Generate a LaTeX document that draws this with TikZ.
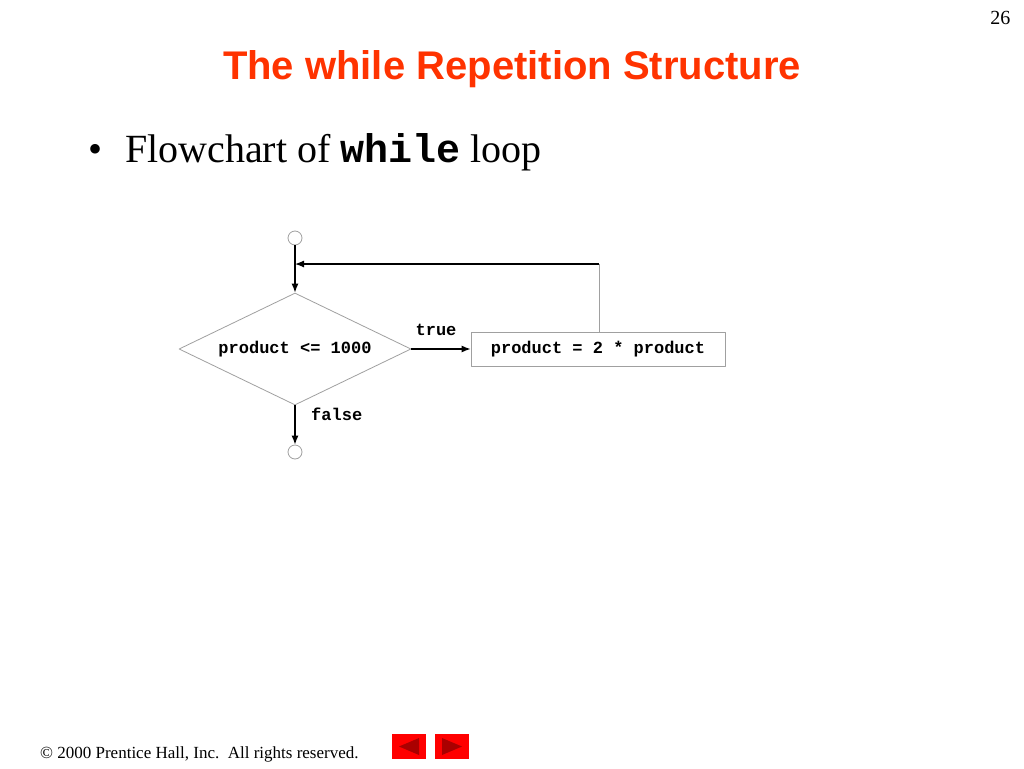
\documentclass[tikz,border=0pt]{standalone}
\usepackage{fontspec}
\setmainfont{Liberation Serif}
\setsansfont{Liberation Sans}
\setmonofont{Liberation Mono}
\usetikzlibrary{shapes.geometric,arrows.meta}
\definecolor{titlered}{RGB}{255,51,0}
\definecolor{boxgray}{RGB}{160,160,160}
\definecolor{btnred}{RGB}{255,0,0}
\definecolor{btndark}{RGB}{170,0,0}
\tikzset{
  code/.style={font=\fontsize{17}{20}\selectfont\ttfamily\bfseries},
  decision/.style={diamond, draw=boxgray, line width=0.8pt, aspect=2.07, inner sep=0pt, minimum width=232pt, minimum height=112pt, code},
  action/.style={rectangle, draw=boxgray, line width=0.8pt, minimum width=254pt, minimum height=34pt, inner sep=0pt, code},
  endpoint/.style={circle, draw=boxgray, line width=0.8pt, minimum size=14pt, inner sep=0pt},
  flow/.style={-{Latex[length=9pt,width=7pt]}, line width=1.2pt},
  button/.style={fill=btnred, minimum width=34pt, minimum height=25pt, inner sep=0pt}
}
\begin{document}
\begin{tikzpicture}[x=1pt, y=-1pt, line join=round]
\useasboundingbox[fill=white] (0,0) rectangle (1024,768);
% Kopf
\node[anchor=base east, font=\fontsize{20}{24}\selectfont] (page) at (1014,25) {26};
\node[anchor=base, text=titlered, font=\fontsize{40}{48}\selectfont\sffamily\bfseries] (title) at (512,79) {The while Repetition Structure};
\node[anchor=base west, font=\fontsize{40}{48}\selectfont] (bullet) at (85,162) {\textbullet};
\node[anchor=base west, font=\fontsize{40}{48}\selectfont, inner sep=0pt] (text) at (125,162) {Flowchart of \texttt{\bfseries while} loop};
% Flussdiagramm
\node[endpoint] (start) at (295,238) {};
\node[decision] (test) at (295,349) {product <= 1000};
\node[action] (body) at (598,349) {product = 2 * product};
\node[endpoint] (stop) at (295,452) {};
\coordinate (corner) at (599,264);
\coordinate (join) at (295,264);
\draw[flow] (start) -- (test.north);
\draw[flow] (test.east) -- (body.west);
\draw[flow] (test.south) -- (stop);
\node[code, anchor=base] (true) at (436,335) {true};
\node[code, anchor=base west, inner sep=0pt] (false) at (311,420) {false};
\draw[boxgray, line width=0.8pt] (body.north -| corner) -- (corner);
\draw[flow] (corner) -- (join);
% Fuss
\node[anchor=base west, font=\fontsize{17}{20}\selectfont, inner sep=0pt] (copy) at (40,758) {\textcopyright\ 2000 Prentice Hall, Inc.\ \ All rights reserved.};
\node[button] (prev) at (409,746.5) {};
\node[button] (next) at (452,746.5) {};
\fill[btndark] (399,746.5) -- (419,738) -- (419,755) -- cycle;
\fill[btndark] (462,746.5) -- (442,738) -- (442,755) -- cycle;
\end{tikzpicture}
\end{document}
